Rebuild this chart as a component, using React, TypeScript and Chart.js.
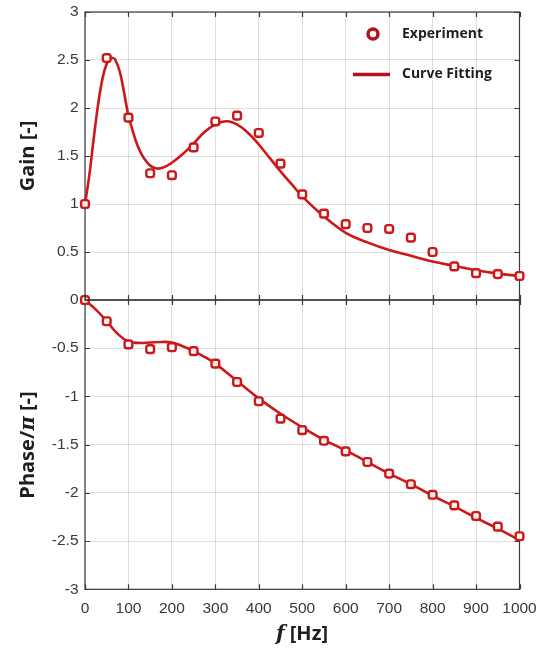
import React, { useEffect, useRef } from "react";
import { Chart, registerables } from "chart.js";
Chart.register(...registerables);

// ---- data ----
const freqExp = [0, 50, 100, 150, 200, 250, 300, 350, 400, 450, 500, 550, 600, 650, 700, 750, 800, 850, 900, 950, 1000];
const gainExp = [1.0, 2.52, 1.9, 1.32, 1.3, 1.59, 1.86, 1.92, 1.74, 1.42, 1.1, 0.9, 0.79, 0.75, 0.74, 0.65, 0.5, 0.35, 0.28, 0.27, 0.25];
const phaseExp = [0, -0.22, -0.46, -0.51, -0.49, -0.53, -0.66, -0.85, -1.05, -1.23, -1.35, -1.46, -1.57, -1.68, -1.8, -1.91, -2.02, -2.13, -2.24, -2.35, -2.45];

const freqGainFit = [0, 10, 20, 30, 40, 50, 60, 65, 70, 80, 90, 100, 110, 120, 130, 140, 150, 165, 180, 200, 225, 250, 275, 300, 320, 340, 360, 380, 400, 425, 450, 475, 500, 550, 600, 650, 700, 750, 800, 850, 900, 950, 1000];
const gainFit = [1.0, 1.3, 1.68, 2.03, 2.3, 2.46, 2.52, 2.52, 2.5, 2.38, 2.16, 1.92, 1.76, 1.62, 1.52, 1.45, 1.4, 1.37, 1.38, 1.43, 1.52, 1.63, 1.75, 1.83, 1.86, 1.85, 1.8, 1.72, 1.62, 1.48, 1.34, 1.21, 1.08, 0.87, 0.7, 0.6, 0.52, 0.46, 0.4, 0.355, 0.31, 0.275, 0.25];

const freqPhaseFit = [0, 25, 50, 75, 100, 125, 150, 175, 200, 225, 250, 275, 300, 350, 400, 450, 500, 550, 600, 650, 700, 750, 800, 850, 900, 950, 1000];
const phaseFit = [0, -0.1, -0.22, -0.35, -0.43, -0.445, -0.44, -0.435, -0.44, -0.48, -0.53, -0.59, -0.66, -0.84, -1.02, -1.18, -1.32, -1.45, -1.56, -1.68, -1.8, -1.91, -2.03, -2.14, -2.26, -2.37, -2.49];

const xTicks = { min: 0, max: 1000, step: 100 };
const gainRange = { min: 0, max: 3, step: 0.5 };
const phaseRange = { min: -3, max: 0, step: 0.5 };

const legendLabels = ["Experiment", "Curve Fitting"];

// ---- styles ----
const RED = "#cc1818";
const LEGEND_RED = "#b3121c";
const TICK_FONT = { family: "'Liberation Sans', Arial, sans-serif", size: 15.5 };
const TITLE_FONT = "'Open Sans', 'Noto Sans', sans-serif";

const framePlugin = {
  id: "frame",
  beforeDatasetsDraw(chart: any) {
    const { ctx, chartArea: a, scales } = chart;
    ctx.save();
    ctx.strokeStyle = "#3a3a3a";
    ctx.lineWidth = 1.2;
    ctx.strokeRect(a.left, a.top, a.right - a.left, a.bottom - a.top);
    const L = 5;
    ctx.beginPath();
    scales.x.ticks.forEach((t: any) => {
      const px = Math.round(scales.x.getPixelForValue(t.value)) + 0.5;
      ctx.moveTo(px, a.top);
      ctx.lineTo(px, a.top + L);
      ctx.moveTo(px, a.bottom);
      ctx.lineTo(px, a.bottom - L);
    });
    scales.y.ticks.forEach((t: any) => {
      const py = Math.round(scales.y.getPixelForValue(t.value)) + 0.5;
      ctx.moveTo(a.left, py);
      ctx.lineTo(a.left + L, py);
      ctx.moveTo(a.right, py);
      ctx.lineTo(a.right - L, py);
    });
    ctx.stroke();
    ctx.restore();
  },
};

const legendPlugin = {
  id: "customLegend",
  afterDraw(chart: any) {
    const { ctx } = chart;
    ctx.save();
    ctx.beginPath();
    ctx.arc(373, 34, 5, 0, Math.PI * 2);
    ctx.fillStyle = "#fff";
    ctx.fill();
    ctx.lineWidth = 3.5;
    ctx.strokeStyle = LEGEND_RED;
    ctx.stroke();
    ctx.beginPath();
    ctx.moveTo(353, 74.5);
    ctx.lineTo(390, 74.5);
    ctx.lineWidth = 3.5;
    ctx.stroke();
    ctx.fillStyle = "#1e1e1e";
    ctx.font = `bold 14px ${TITLE_FONT}`;
    ctx.textBaseline = "middle";
    ctx.textAlign = "left";
    ctx.fillText(legendLabels[0], 402, 34);
    ctx.fillText(legendLabels[1], 402, 74);
    ctx.restore();
  },
};

function toXY(xs: number[], ys: number[]) {
  return xs.map((x, i) => ({ x, y: ys[i] }));
}

function makeConfig(opts: {
  exp: number[];
  fit: number[];
  fitX: number[];
  range: { min: number; max: number; step: number };
  isTop: boolean;
}) {
  const { exp, fit, fitX, range, isTop } = opts;
  return {
    type: "line" as const,
    data: {
      datasets: [
        {
          label: legendLabels[0],
          data: toXY(freqExp, exp),
          showLine: false,
          pointStyle: "rectRounded",
          pointRadius: 4.5,
          pointBorderWidth: 2.4,
          pointBorderColor: RED,
          pointBackgroundColor: "rgba(255,255,255,0.9)",
          borderColor: RED,
          clip: false,
        },
        {
          label: legendLabels[1],
          data: toXY(fitX, fit),
          borderColor: RED,
          borderWidth: 2.6,
          pointRadius: 0,
          tension: 0.4,
          fill: false,
          clip: false,
        },
      ],
    },
    options: {
      responsive: false,
      animation: false,
      events: [],
      layout: {
        autoPadding: false,
        padding: isTop
          ? { left: 0, right: 25.5, top: 12, bottom: 2 }
          : { left: 0, right: 25.5, top: 10, bottom: 0 },
      },
      plugins: { legend: { display: false }, tooltip: { enabled: false } },
      scales: {
        x: {
          type: "linear",
          min: xTicks.min,
          max: xTicks.max,
          ticks: {
            display: !isTop,
            stepSize: xTicks.step,
            color: "#383838",
            font: TICK_FONT,
            padding: 10,
            maxRotation: 0,
            autoSkip: false,
            callback: (v: number) => String(v),
          },
          grid: { color: "rgba(0,0,0,0.12)", lineWidth: 1, drawTicks: false },
          border: { display: false },
          afterFit: (s: any) => {
            s.height = isTop ? 0 : 62.7;
            s.paddingLeft = 0;
            s.paddingRight = 0;
            s.paddingTop = 0;
            s.paddingBottom = 0;
          },
        },
        y: {
          type: "linear",
          min: range.min,
          max: range.max,
          ticks: {
            stepSize: range.step,
            color: "#383838",
            font: TICK_FONT,
            padding: 6.5,
            autoSkip: false,
            callback: (v: number) => (isTop && v === 0 ? "" : String(v)),
          },
          grid: { color: "rgba(0,0,0,0.12)", lineWidth: 1, drawTicks: false },
          border: { display: false },
          afterFit: (s: any) => {
            s.width = 85;
            s.paddingTop = 0;
            s.paddingBottom = 0;
            s.paddingLeft = 0;
            s.paddingRight = 0;
          },
        },
      },
    },
    plugins: isTop ? [framePlugin, legendPlugin] : [framePlugin],
  };
}

export default function App() {
  const topRef = useRef<HTMLCanvasElement>(null);
  const botRef = useRef<HTMLCanvasElement>(null);

  useEffect(() => {
    const top = new Chart(
      topRef.current as HTMLCanvasElement,
      makeConfig({ exp: gainExp, fit: gainFit, fitX: freqGainFit, range: gainRange, isTop: true }) as any
    );
    const bot = new Chart(
      botRef.current as HTMLCanvasElement,
      makeConfig({ exp: phaseExp, fit: phaseFit, fitX: freqPhaseFit, range: phaseRange, isTop: false }) as any
    );
    return () => {
      top.destroy();
      bot.destroy();
    };
  }, []);

  const titleStyle: React.CSSProperties = {
    position: "absolute",
    fontFamily: TITLE_FONT,
    fontWeight: 700,
    fontSize: 20,
    color: "#1e1e1e",
    whiteSpace: "nowrap",
    lineHeight: 1,
  };

  return (
    <div style={{ position: "absolute", left: 0, top: 0, width: 545, height: 652, background: "#fff", overflow: "hidden" }}>
      <canvas ref={botRef} width={545} height={362} style={{ position: "absolute", left: 0, top: 290, width: 545, height: 362 }} />
      <canvas ref={topRef} width={545} height={302} style={{ position: "absolute", left: 0, top: 0, width: 545, height: 302 }} />
      <div style={{ ...titleStyle, left: 27, top: 156, transform: "translate(-50%, -50%) rotate(-90deg)" }}>Gain [-]</div>
      <div style={{ ...titleStyle, left: 27, top: 445, transform: "translate(-50%, -50%) rotate(-90deg)" }}>
        Phase/<span style={{ fontStyle: "italic", fontFamily: "'DejaVu Serif', serif" }}>π</span> [-]
      </div>
      <div style={{ ...titleStyle, left: 302, top: 633, transform: "translate(-50%, -50%)" }}>
        <span style={{ fontStyle: "italic", fontFamily: "'DejaVu Serif', serif" }}>f</span> [Hz]
      </div>
    </div>
  );
}
